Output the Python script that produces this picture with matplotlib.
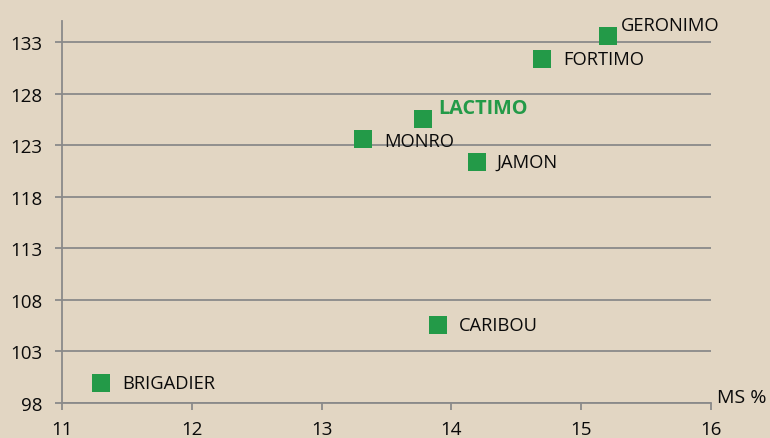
import matplotlib.pyplot as plt

# Varieties: MS % vs index
names = ["GERONIMO", "FORTIMO", "LACTIMO", "MONRO", "JAMON", "CARIBOU", "BRIGADIER"]
ms = [15.21, 14.70, 13.78, 13.32, 14.20, 13.90, 11.30]
index = [133.6, 131.35, 125.5, 123.55, 121.35, 105.55, 99.95]

BG = "#E2D6C3"
GREEN = "#239A48"
GREY = "#8A8A8A"
INK = "#0A0A0A"

plt.rcParams['font.family'] = ['Open Sans', 'DejaVu Sans']

fig = plt.figure(figsize=(7.7, 4.39), dpi=100, facecolor=BG)
ax = fig.add_axes([62 / 770, 35 / 439, 649 / 770, (404 - 22.4) / 439])
ax.set_facecolor(BG)

ax.scatter(ms, index, marker='s', s=150, color=GREEN, zorder=3, linewidths=0)

# label offsets in points (dx, dy)
offsets = {
    "GERONIMO": (9, 8),
    "FORTIMO": (15, 0),
    "LACTIMO": (11, 8),
    "MONRO": (15, -1),
    "JAMON": (14, 0),
    "CARIBOU": (15, 0),
    "BRIGADIER": (15, 0),
}
for n, x, y in zip(names, ms, index):
    dx, dy = offsets[n]
    if n == "LACTIMO":
        ax.annotate(n, (x, y), xytext=(dx, dy), textcoords='offset points',
                    va='center', ha='left', fontsize=14.3, fontweight='bold', color=GREEN)
    else:
        ax.annotate(n, (x, y), xytext=(dx, dy), textcoords='offset points',
                    va='center', ha='left', fontsize=13.2, color=INK)

ax.set_xlim(11, 16)
ax.set_ylim(98, 135)
ax.set_xticks(range(11, 17))
ax.set_yticks(range(98, 134, 5))
ax.grid(axis='y', color=GREY, linewidth=1.3)
ax.set_axisbelow(True)

for s in ['top', 'right']:
    ax.spines[s].set_visible(False)
for s in ['left', 'bottom']:
    ax.spines[s].set_color(GREY)
    ax.spines[s].set_linewidth(1.3)

ax.tick_params(axis='both', direction='out', length=5, width=1.3, color=GREY,
               labelsize=13.5, labelcolor=INK)
ax.tick_params(axis='y', pad=9)
ax.tick_params(axis='x', pad=7)

fig.text(717 / 770, 1 - 398 / 439, "MS %", fontsize=14, va='center', ha='left', color=INK)

fig.savefig("out.png", facecolor=BG)
